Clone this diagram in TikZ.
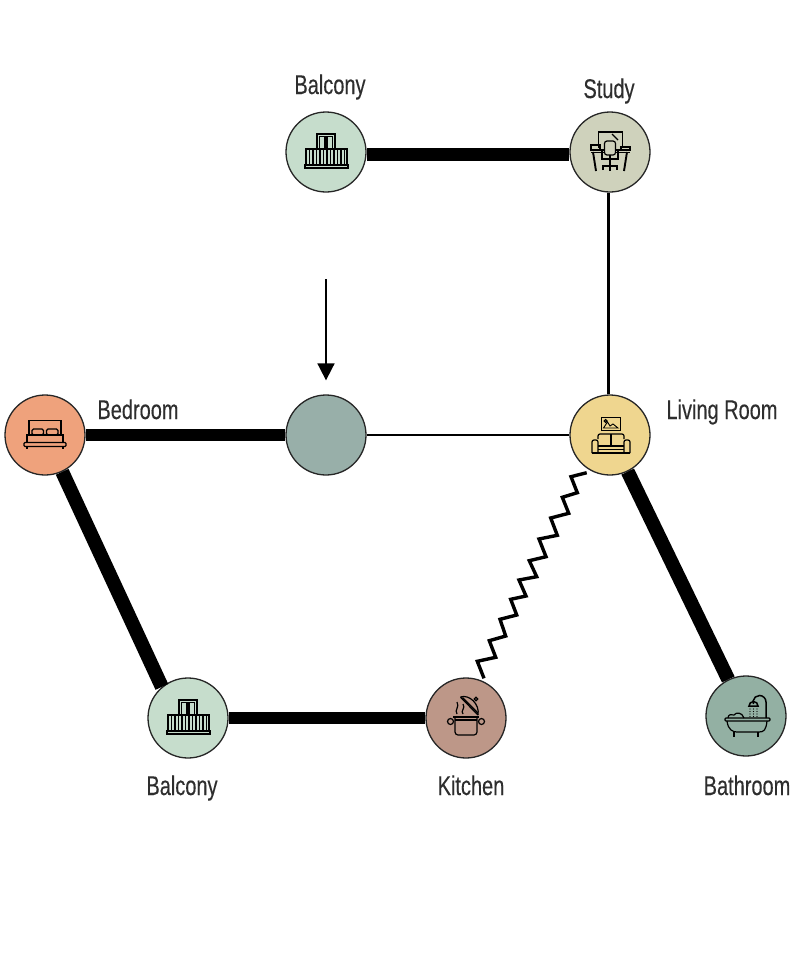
\documentclass[tikz,border=0pt]{standalone}
\usepackage{fontspec}
\setmainfont[FakeStretch=0.74,FakeBold=0.25]{Liberation Sans}
\usetikzlibrary{arrows.meta}
\definecolor{cbalc}{HTML}{C6DDCC}
\definecolor{cstudy}{HTML}{CFD2BC}
\definecolor{cmid}{HTML}{98AFA9}
\definecolor{cliving}{HTML}{EFD68F}
\definecolor{cbed}{HTML}{EFA27C}
\definecolor{ckit}{HTML}{BD9788}
\definecolor{cbath}{HTML}{93B0A3}
\definecolor{ctext}{HTML}{2E2E2E}
\tikzset{
  room/.style={circle,draw=black!85,line width=1.3pt,minimum size=80pt,inner sep=0pt},
  lab/.style={text=ctext,font=\fontsize{27}{27}\selectfont,inner sep=0pt,anchor=base},
  heavy/.style={line width=13pt,black},
  thin link/.style={line width=3pt,black},
  icon/.style={line width=1.2pt,black,line cap=butt,line join=miter},
}
\newcommand{\balconyicon}[1]{\begin{scope}[shift={(#1)},icon]
  \draw (-9,-3) -- (-9,-18) -- (9,-18) -- (9,-3);
  \draw (-6.5,-3) -- (-6.5,-15.5) -- (-1,-15.5) -- (-1,-3);
  \draw (1,-3) -- (1,-15.5) -- (6.5,-15.5) -- (6.5,-3);
  \draw[line width=1.4pt] (-21,-3) -- (22,-3);
  \foreach \x in {-20,-16.5,-13,-9.5,-6,-2.5,1,4.5,8,11.5,15,18.5,21}{\draw (\x,-3) -- (\x,13);}
  \draw (-21,13) rectangle (22,16);
\end{scope}}
\newcommand{\studyicon}[1]{\begin{scope}[shift={(#1)},icon]
  \draw (-11.5,-4) -- (-11.5,-20) -- (12.5,-20) -- (12.5,-4);
  \draw (2,-18) -- (8,-12);
  \draw[rounded corners=2.5pt,fill=cstudy] (-5.5,3) -- (-5.5,-11) -- (5.5,-11) -- (5.5,3) -- cycle;
  \draw (-19,-2) -- (-6,-2) (6,-2) -- (20,-2) (-19,0.5) -- (-6,0.5) (6,0.5) -- (20,0.5);
  \draw (-19,-7) rectangle (-10,-2);
  \draw (11,-5) rectangle (20,-2);
  \draw[line width=1.9pt] (-17,0) -- (-14,19) (17,0) -- (14,19);
  \draw[line width=1.4pt] (-8,-2) -- (-8,7) -- (8,7) -- (8,-2);
  \draw[line width=2.2pt] (0,3) -- (0,14);
  \draw[line width=1.5pt] (-7,18) -- (-7,14) -- (7,14) -- (7,18);
  \draw[line width=1.5pt] (0,14) -- (0,19);
\end{scope}}
\newcommand{\bedicon}[1]{\begin{scope}[shift={(#1)},icon]
  \draw (-16,0) -- (-16,-14.5) -- (16,-14.5) -- (16,0);
  \draw[rounded corners=1.5pt] (-13,0) rectangle (-1.5,-6);
  \draw[rounded corners=1.5pt] (1.5,0) rectangle (13,-6);
  \draw (-18,7.5) -- (-18,0) -- (18,0) -- (18,7.5);
  \draw[rounded corners=1pt] (-21,7.5) rectangle (21,11.5);
  \draw[line width=1.8pt] (-18,11.5) -- (-18,14) (18,11.5) -- (18,14);
\end{scope}}
\newcommand{\sofaicon}[1]{\begin{scope}[shift={(#1)},icon]
  \draw[line width=1.5pt] (-9.5,-17.5) rectangle (9.5,-4.5);
  \draw[line width=.9pt] (-7.5,-7) -- (-3.5,-13) -- (-1,-9) -- (2,-11) -- (7,-7) -- cycle;
  \draw (-5.5,-14) circle (1.4);
  \draw[rounded corners=2pt] (-13,4) -- (-13,-1) -- (13,-1) -- (13,4);
  \draw (0,-1) -- (0,11);
  \draw[rounded corners=2pt] (-19,18) -- (-19,5) -- (-13,5) -- (-13,18);
  \draw[rounded corners=2pt] (19,18) -- (19,5) -- (13,5) -- (13,18);
  \draw (-13,11) -- (13,11) (-13,14.5) -- (13,14.5);
  \draw[line width=1.3pt] (-19,18) -- (19,18);
\end{scope}}
\newcommand{\poticon}[1]{\begin{scope}[shift={(#1)},icon]
  \draw[line width=1.4pt] (-13,-1) -- (13,-1);
  \draw[rounded corners=3pt] (-11,-1) -- (-11,17) -- (11,17) -- (11,-1);
  \draw (-11,2) -- (11,2);
  \draw (-15.5,3.5) circle (3) (15.5,3.5) circle (3);
  \draw[line width=1.4pt] (-5.5,-21) -- (12,-3);
  \draw (-3.5,-20.5) -- (12,-5);
  \draw (-5.5,-21) .. controls (3,-24) and (14,-14) .. (12,-3);
  \draw (10,-19) circle (1.8);
  \draw (-9,-4) .. controls (-12,-8) and (-6,-11) .. (-9,-16);
  \draw (-3,-4) .. controls (-6,-7) and (0,-10) .. (-3,-14);
\end{scope}}
\newcommand{\bathicon}[1]{\begin{scope}[shift={(#1)},icon]
  \draw[rounded corners=1pt] (-21,2) rectangle (24,5);
  \draw (-19,5) .. controls (-18,14) and (-13,16) .. (-9,16) -- (13,16) .. controls (18,16) and (20,14) .. (21,5);
  \draw[line width=1.5pt] (-12,16) -- (-12,21) (12,16) -- (12,21);
  \draw (-18,2) .. controls (-18,-2) and (-14,-2) .. (-12,-1) .. controls (-10,-4) and (-4,-4) .. (-2,2);
  \draw[line width=1.5pt] (20,2) -- (20,-14) arc (0:-170:6.5) -- (7.5,-12);
  \draw[line width=1.5pt] (3,-10) arc (180:360:4.5) -- cycle;
  \foreach \x in {4,7.5,11}{\foreach \y in {-7,-4.5,-2,.5}{\fill (\x,\y) circle (.6);}}
\end{scope}}
\begin{document}
\begin{tikzpicture}[x=1pt,y=-1pt]
\useasboundingbox[clip] (0,0) rectangle (792,969);
\fill[white] (0,0) rectangle (792,969);
% rooms
\node[room,fill=cbalc]   (balT)  at (326,152) {};
\node[room,fill=cstudy]  (study) at (610,152) {};
\node[room,fill=cmid]    (mid)   at (326,435) {};
\node[room,fill=cliving] (liv)   at (610,435) {};
\node[room,fill=cbed]    (bed)   at (45,435) {};
\node[room,fill=cbalc]   (balB)  at (188,718) {};
\node[room,fill=ckit]    (kit)   at (466,718) {};
\node[room,fill=cbath]   (bath)  at (746,716) {};
% connectors
\draw[heavy] ([yshift=-2.5pt]balT.east) -- ([yshift=-2.5pt]study.west);
\draw[thin link] ([xshift=-2pt]study.south) -- ([xshift=-2pt]liv.north);
\draw[heavy,line width=12pt] (bed) -- (mid);
\draw[thin link,line width=2.6pt] (mid) -- (liv);
\draw[heavy,line width=14pt] (bed.-65) -- (balB.130);
\draw[heavy,line width=12pt] (balB) -- (kit);
\draw[heavy,line width=14pt] (liv) -- (bath);
\coordinate (zs) at (586.7,472.7);
\coordinate (ze) at (484,678.3);
\draw[black,line width=3.4pt,line join=miter] (zs) -- (571,476.7) -- (577.3,492.7) -- (562.3,497.3) -- (568.7,513.3) -- (550.7,518) -- (557.3,535.3) -- (539,539) -- (546,556.7) -- (529.3,560.7) -- (536.7,576.7) -- (519,580) -- (526,596) -- (510.7,599.3) -- (516.7,615) -- (500,619.3) -- (505.7,636) -- (489.3,640.7) -- (495.7,657.3) -- (477.3,661.3) -- (ze);
\coordinate (arrowstart) at (326,279);
\draw[black,line width=1.8pt,shorten >=14pt,-{Triangle[length=17pt,width=17pt]}] (arrowstart) -- (mid.north);
% icons
\balconyicon{326,152}
\balconyicon{188,718}
\studyicon{610,152}
\sofaicon{611,435}
\bedicon{45,435}
\poticon{466,718}
\bathicon{746,716}
% labels
\node[lab] (t1) at (330,94) {Balcony};
\node[lab] (t2) at (609,98) {Study};
\node[lab] (t3) at (138,419) {Bedroom};
\node[lab] (t4) at (722,419) {Living Room};
\node[lab] (t5) at (182,795) {Balcony};
\node[lab] (t6) at (471,795) {Kitchen};
\node[lab] (t7) at (747,795) {Bathroom};
\end{tikzpicture}
\end{document}
